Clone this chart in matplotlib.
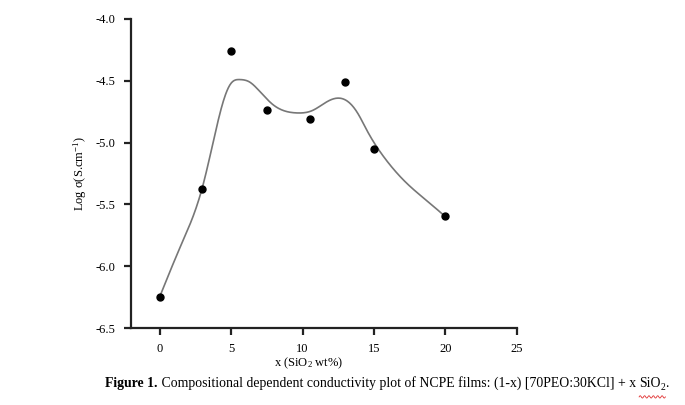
import matplotlib
matplotlib.use("Agg")
import matplotlib.pyplot as plt
import numpy as np

plt.rcParams["font.family"] = ["Liberation Serif", "DejaVu Serif"]
plt.rcParams["mathtext.fontset"] = "custom"
plt.rcParams["mathtext.rm"] = "Liberation Serif"
plt.rcParams["mathtext.default"] = "regular"
plt.rcParams["axes.unicode_minus"] = False

# measured points
sio2 = [0, 3, 5, 7.5, 10.5, 13, 15, 20]
log_sigma = [-6.25, -5.375, -4.26, -4.735, -4.81, -4.51, -5.05, -5.595]

# fitted curve
curve_x = [0, 1.5, 3.0, 3.8, 4.5, 5.0, 5.6, 6.3, 6.8, 7.9, 9.6,
           10.7, 11.7, 12.5, 13.3, 13.9, 14.5, 15.65, 17.3, 18.9, 20]
curve_y = [-6.25, -5.83, -5.36, -4.97, -4.65, -4.52, -4.49, -4.51, -4.56,
           -4.69, -4.76, -4.74, -4.67, -4.64, -4.68, -4.77, -4.90, -5.11, -5.33,
           -5.49, -5.60]

xticks = [0, 5, 10, 15, 20, 25]
yticks = [-6.5, -6.0, -5.5, -5.0, -4.5, -4.0]


def spline(xs, ys, n=400):
    # natural cubic spline through the read points, only for drawing
    x = np.asarray(xs, float)
    y = np.asarray(ys, float)
    m = len(x)
    h = np.diff(x)
    A = np.zeros((m, m))
    b = np.zeros(m)
    A[0, 0] = A[-1, -1] = 1
    for i in range(1, m - 1):
        A[i, i - 1] = h[i - 1]
        A[i, i] = 2 * (h[i - 1] + h[i])
        A[i, i + 1] = h[i]
        b[i] = 6 * ((y[i + 1] - y[i]) / h[i] - (y[i] - y[i - 1]) / h[i - 1])
    M = np.linalg.solve(A, b)
    xx = np.linspace(x[0], x[-1], n)
    k = np.clip(np.searchsorted(x, xx) - 1, 0, m - 2)
    t1 = x[k + 1] - xx
    t0 = xx - x[k]
    hk = h[k]
    yy = (M[k] * t1 ** 3 + M[k + 1] * t0 ** 3) / (6 * hk) \
        + (y[k] / hk - M[k] * hk / 6) * t1 + (y[k + 1] / hk - M[k + 1] * hk / 6) * t0
    return xx, yy


fig = plt.figure(figsize=(6.85, 4.05), dpi=100)
ax = fig.add_axes([0.1912, 0.1901, 0.5635, 0.763])

cx, cy = spline(curve_x, curve_y)
ax.plot(cx, cy, color="#777777", lw=1.2, zorder=2)
ax.plot(sio2, log_sigma, "o", color="black", ms=5, zorder=3)

ax.set_xlim(-2, 25)
ax.set_ylim(-6.5, -4.0)
ax.set_xticks(xticks)
ax.set_xticklabels([str(v) for v in xticks])
ax.set_yticks(yticks)
ax.set_yticklabels(["%.1f" % v for v in yticks])
ax.spines["top"].set_visible(False)
ax.spines["right"].set_visible(False)
for s in ["left", "bottom"]:
    ax.spines[s].set_linewidth(1.6)
    ax.spines[s].set_color("#222222")
ax.tick_params(direction="out", length=5, width=1.6, color="#222222",
               labelsize=9, pad=6)

fig.text(0.117, 0.5715, "Log σ(S.cm$^{-1}$)", rotation=90, fontsize=9,
         ha="center", va="center")
fig.text(0.451, 0.104, "x (SiO$_2$ wt%)", fontsize=9, ha="center", va="center")

# caption, built piece by piece so the subscript sits right
fig.canvas.draw()
r = fig.canvas.get_renderer()
cy_fig = 0.044
parts = [("Figure 1.", "bold", 9.9, 0),
         (" Compositional dependent conductivity plot of NCPE films: (1-x) [70PEO:30KCl] + x ", "normal", 9.9, 0),
         ("SiO", "normal", 9.9, 0),
         ("2", "normal", 7, -0.008),
         (".", "normal", 9.9, 0)]
x0 = 105 / 685
sq0 = sq1 = None
for txt, w, fs, dy in parts:
    t = fig.text(x0, cy_fig + dy, txt, fontsize=fs, fontweight=w, ha="left", va="baseline")
    bb = t.get_window_extent(r).transformed(fig.transFigure.inverted())
    if txt == "SiO":
        sq0 = bb.x0
    if txt == "2":
        sq1 = bb.x1
    x0 = bb.x1

# spell-check squiggle under SiO2
xs = np.linspace(sq0, sq1, 40)
ys = cy_fig - 0.024 + 0.003 * np.sin(np.linspace(0, 12 * np.pi, 40))
fig.add_artist(plt.Line2D(xs, ys, color="#e03030", lw=0.6, transform=fig.transFigure))

plt.savefig("out.png", dpi=100)
